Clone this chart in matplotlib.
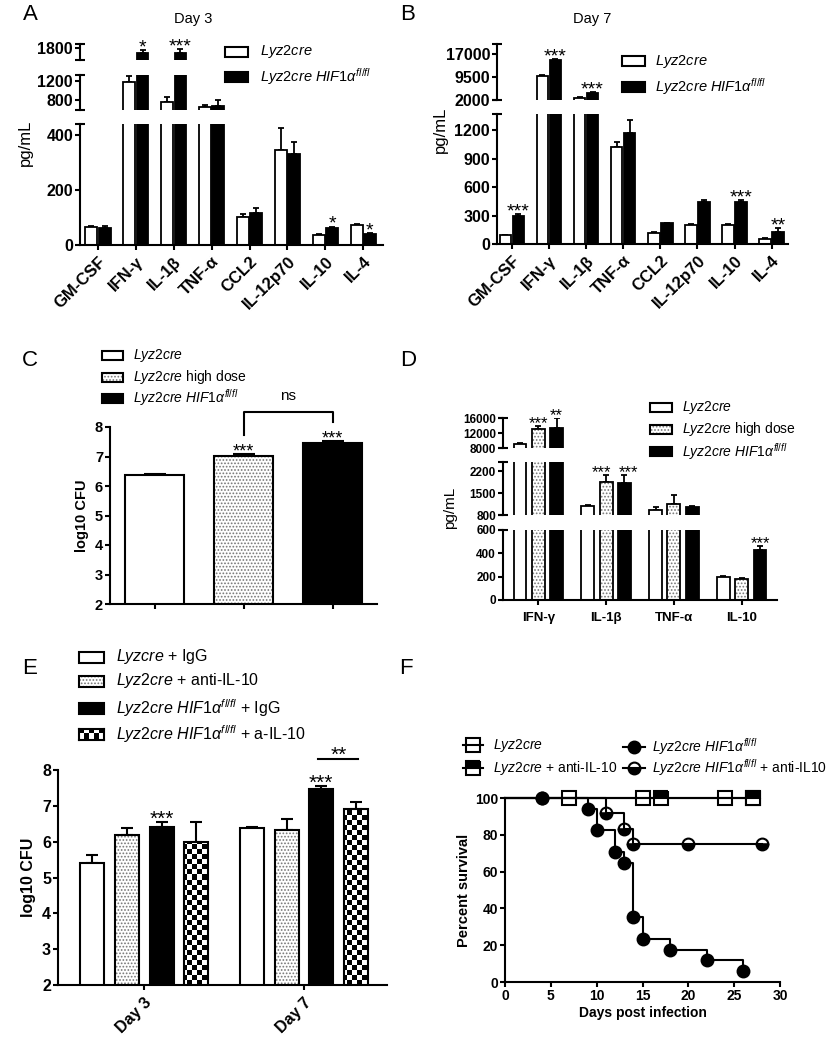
import numpy as np
import matplotlib
matplotlib.use('Agg')
import matplotlib.pyplot as plt
from matplotlib.patches import Rectangle
from matplotlib.lines import Line2D

plt.rcParams['font.family'] = ['Liberation Sans', 'DejaVu Sans']
plt.rcParams['mathtext.fontset'] = 'custom'
plt.rcParams['mathtext.rm'] = 'Liberation Sans'
plt.rcParams['mathtext.it'] = 'Liberation Sans:italic'
plt.rcParams['mathtext.bf'] = 'Liberation Sans:bold'
plt.rcParams['hatch.linewidth'] = 0.8
plt.rcParams['axes.linewidth'] = 1.5
plt.rcParams['xtick.major.width'] = 1.5
plt.rcParams['ytick.major.width'] = 1.5
plt.rcParams['xtick.major.size'] = 3.5
plt.rcParams['ytick.major.size'] = 3.5

# ---------------- data ----------------
cyto8 = ['GM-CSF', 'IFN-γ', 'IL-1β', 'TNF-α', 'CCL2', 'IL-12p70', 'IL-10', 'IL-4']
# Panel A (Day 3)
a_ctrl = [65, 1180, 750, 650, 103, 345, 36, 72]
a_ctrl_err = [5, 130, 110, 35, 8, 80, 3, 4]
a_ko = [62, 1675, 1675, 675, 116, 331, 62, 40]
a_ko_err = [8, 80, 90, 130, 18, 45, 5, 3]
a_stars = ['', '*', '***', '', '', '', '*', '*']
# Panel B (Day 7)
b_ctrl = [90, 9800, 2700, 1020, 120, 200, 200, 50]
b_ctrl_err = [8, 300, 150, 50, 8, 10, 12, 8]
b_ko = [300, 15200, 4400, 1170, 220, 440, 440, 125]
b_ko_err = [12, 300, 200, 140, 6, 25, 25, 45]
b_stars = ['***', '***', '***', '', '', '', '***', '**']
# Panel C
c_vals = [6.38, 7.03, 7.46]
c_err = [0.04, 0.05, 0.06]
c_stars = ['', '***', '***']
# Panel D
d_cyto = ['IFN-γ', 'IL-1β', 'TNF-α', 'IL-10']
d_ctrl = [9200, 1100, 960, 200]
d_ctrl_err = [150, 30, 90, 8]
d_high = [13100, 1860, 1160, 183]
d_high_err = [800, 230, 280, 6]
d_ko = [13400, 1840, 1050, 430]
d_ko_err = [2500, 250, 25, 30]
d_high_stars = ['***', '***', '', '']
d_ko_stars = ['**', '***', '', '***']
# Panel E
e_days = ['Day 3', 'Day 7']
e_ctrl_igg = [5.40, 6.38]
e_ctrl_igg_err = [0.22, 0.04]
e_ctrl_anti = [6.18, 6.33]
e_ctrl_anti_err = [0.20, 0.30]
e_ko_igg = [6.42, 7.47]
e_ko_igg_err = [0.13, 0.08]
e_ko_anti = [6.00, 6.90]
e_ko_anti_err = [0.55, 0.20]
e_ko_igg_stars = ['***', '***']
# Panel F (survival)
f_ctrl_t = [0, 7, 15, 24, 27]
f_ctrl_s = [100, 100, 100, 100, 100]
f_ctrl_anti_t = [0, 17, 27]
f_ctrl_anti_s = [100, 100, 100]
f_ko_t = [0, 4, 9, 10, 12, 13, 14, 15, 18, 22, 26]
f_ko_s = [100, 100, 94.1, 82.4, 70.6, 64.7, 35.3, 23.5, 17.6, 11.8, 5.9]
f_ko_anti_t = [0, 4, 11, 13, 14, 20, 28]
f_ko_anti_s = [100, 100, 91.7, 83.3, 75.0, 75.0, 75.0]

LYZ = r'$\mathit{Lyz2cre}$'
LYZHIF = r'$\mathit{Lyz2cre\ HIF1\alpha^{fl/fl}}$'

# ---------------- figure helpers ----------------
W, H = 834, 1050
fig = plt.figure(figsize=(W / 100, H / 100), dpi=100)


def fx(x):
    return x / W


def fy(y):
    return 1 - y / H


def ax_px(x0, y0, x1, y1):
    return fig.add_axes([x0 / W, 1 - y1 / H, (x1 - x0) / W, (y1 - y0) / H])


def style_ax(ax, fs=9):
    for s in ['top', 'right']:
        ax.spines[s].set_visible(False)
    ax.patch.set_alpha(0)
    ax.tick_params(axis='both', direction='out', labelsize=fs, pad=1.5)
    for lab in ax.get_yticklabels():
        lab.set_fontweight('bold')


def broken_axes(x0, x1, segs, fs=9):
    axes = []
    for i, (yt, yb, vmin, vmax, ticks) in enumerate(segs):
        ax = ax_px(x0, yt, x1, yb)
        ax.set_ylim(vmin, vmax)
        ax.set_yticks(ticks)
        ax.set_yticklabels([str(t) for t in ticks], fontweight='bold')
        style_ax(ax, fs)
        if i > 0:
            ax.spines['bottom'].set_visible(False)
            ax.tick_params(axis='x', bottom=False, labelbottom=False)
        ends = [1] if i == 0 else [0, 1]
        ax.plot([0] * len(ends), ends, marker='_', ms=7, mew=1.5, color='k',
                transform=ax.transAxes, clip_on=False, linestyle='none')
        axes.append(ax)
    return axes


def checker_fill(ax, patch, cell=5):
    bb = ax.get_position()
    nx = int(round(bb.width * W / cell))
    ny = int(round(bb.height * H / cell))
    arr = np.add.outer(np.arange(ny), np.arange(nx)) % 2
    xl, yl = ax.get_xlim(), ax.get_ylim()
    im = ax.imshow(arr, extent=[xl[0], xl[1], yl[0], yl[1]], cmap='gray',
                   aspect='auto', interpolation='nearest', origin='lower',
                   zorder=2.1)
    im.set_clip_path(patch)
    ax.set_xlim(xl)
    ax.set_ylim(yl)


def draw_bars(ax, xs, vals, errs, width, kind, lw=1.5, capsize=3):
    if kind == 'white':
        ax.bar(xs, vals, width, facecolor='white', edgecolor='black', linewidth=lw, zorder=2)
    elif kind == 'black':
        ax.bar(xs, vals, width, facecolor='black', edgecolor='black', linewidth=lw, zorder=2)
    elif kind == 'dots':
        ax.bar(xs, vals, width, facecolor='white', edgecolor='#777777', hatch='.....',
               linewidth=0, zorder=2)
        ax.bar(xs, vals, width, facecolor='none', edgecolor='black', linewidth=lw, zorder=3)
    elif kind == 'checker':
        bc = ax.bar(xs, vals, width, facecolor='white', edgecolor='none', linewidth=0, zorder=2)
        for p in bc.patches:
            checker_fill(ax, p)
        ax.bar(xs, vals, width, facecolor='none', edgecolor='black', linewidth=lw, zorder=3)
    ax.errorbar(xs, vals, yerr=[np.zeros(len(vals)), errs], fmt='none', ecolor='black',
                elinewidth=lw, capsize=capsize, capthick=lw, zorder=1.9)


def star_text(ax, x, y, s, fs, nx=0):
    ax.annotate(s, (x, y), xytext=(nx, -0.12 * fs), textcoords='offset points',
                ha='center', va='baseline', fontsize=fs, annotation_clip=False)


def stars(axes, xs, vals, errs, labels, fs=14, nudge=None):
    if nudge is None:
        nudge = [0] * len(xs)
    for x, v, e, s, nx in zip(xs, vals, errs, labels, nudge):
        if not s:
            continue
        top = v + e
        target = axes[-1]
        for ax in axes:
            lo, hi = ax.get_ylim()
            if lo <= top <= hi:
                target = ax
                break
        star_text(target, x, top, s, fs, nx)


def legend_box(x0, x1, yc, h, kind):
    if kind == 'checker':
        lax = ax_px(x0, yc - h / 2, x1, yc + h / 2)
        n = max(2, int(round((x1 - x0) / 5)))
        m = max(2, int(round(h / 5)))
        arr = np.add.outer(np.arange(m), np.arange(n)) % 2
        lax.imshow(arr, cmap='gray', aspect='auto', interpolation='nearest')
        lax.set_xticks([])
        lax.set_yticks([])
        for s in lax.spines.values():
            s.set_linewidth(1.5)
        return
    fc = {'white': 'white', 'black': 'black', 'dots': 'white'}[kind]
    if kind == 'dots':
        r0 = Rectangle((fx(x0), fy(yc + h / 2)), (x1 - x0) / W, h / H, transform=fig.transFigure,
                       facecolor='white', edgecolor='#777777', hatch='.....', linewidth=0)
        fig.add_artist(r0)
        fc = 'none'
    r = Rectangle((fx(x0), fy(yc + h / 2)), (x1 - x0) / W, h / H, transform=fig.transFigure,
                  facecolor=fc, edgecolor='black', linewidth=1.5)
    fig.add_artist(r)


def legend_text(x, yc, s, fs):
    fig.text(fx(x), fy(yc), s, fontsize=fs, ha='left', va='center')


def panel_letter(x, y, s):
    fig.text(fx(x), fy(y), s, fontsize=16, ha='center', va='center')


# ---------------- Panel A ----------------
xs = np.arange(len(cyto8))
off, bw = 0.175, 0.31
axA = broken_axes(80, 383, [(124, 245, 0, 440, [0, 200, 400]),
                            (75, 110, 590, 1325, [800, 1200]),
                            (44, 60, 1500, 1900, [1800])], fs=11.5)
for ax in axA:
    ax.set_xlim(-0.475, 7.52)
    draw_bars(ax, xs - off, a_ctrl, a_ctrl_err, bw, 'white', lw=1.3, capsize=2.5)
    draw_bars(ax, xs + off, a_ko, a_ko_err, bw, 'black', lw=1.3, capsize=2.5)
axA[0].set_xticks(xs)
axA[0].set_xticklabels(cyto8, rotation=45, ha='right', rotation_mode='anchor',
                       fontweight='bold', fontsize=12)
axA[0].tick_params(axis='x', pad=3)
stars(axA, xs + off, a_ko, a_ko_err, a_stars, fs=14)
fig.text(fx(193), fy(19), 'Day 3', fontsize=10.5, ha='center', va='center')
fig.text(fx(25), fy(143), 'pg/mL', fontsize=12, rotation=90, ha='center', va='center')
legend_box(225, 248, 52, 10, 'white')
legend_box(225, 248, 77, 10, 'black')
legend_text(260, 52, LYZ, 10.5)
legend_text(260, 77, LYZHIF, 10.5)
panel_letter(30, 15, 'A')

# ---------------- Panel B ----------------
axB = broken_axes(497, 788, [(114, 244, 0, 1370, [0, 300, 600, 900, 1200]),
                             (44, 100, 2000, 20300, [2000, 9500, 17000])], fs=11.5)
for ax in axB:
    ax.set_xlim(-0.4, 7.44)
    draw_bars(ax, xs - off, b_ctrl, b_ctrl_err, bw, 'white', lw=1.3, capsize=2.5)
    draw_bars(ax, xs + off, b_ko, b_ko_err, bw, 'black', lw=1.3, capsize=2.5)
axB[0].set_xticks(xs)
axB[0].set_xticklabels(cyto8, rotation=45, ha='right', rotation_mode='anchor',
                       fontweight='bold', fontsize=12)
axB[0].tick_params(axis='x', pad=3)
stars(axB, xs + off, b_ko, b_ko_err, b_stars, fs=14)
fig.text(fx(592), fy(19), 'Day 7', fontsize=10.5, ha='center', va='center')
fig.text(fx(440), fy(130), 'pg/mL', fontsize=12, rotation=90, ha='center', va='center')
legend_box(622, 645, 61, 10, 'white')
legend_box(622, 645, 87, 10, 'black')
legend_text(655, 61, LYZ, 10.5)
legend_text(655, 87, LYZHIF, 10.5)
panel_letter(408, 15, 'B')

# ---------------- Panel C ----------------
axC = ax_px(110, 427, 377, 604)
axC.set_xlim(-0.5, 2.5)
axC.set_ylim(2, 8)
cx = np.arange(3)
cw = 0.67
draw_bars(axC, cx[:1], c_vals[:1], c_err[:1], cw, 'white', capsize=8)
draw_bars(axC, cx[1:2], c_vals[1:2], c_err[1:2], cw, 'dots', capsize=8)
draw_bars(axC, cx[2:], c_vals[2:], c_err[2:], cw, 'black', capsize=8)
axC.set_xticks(cx)
axC.set_xticklabels(['', '', ''])
axC.set_yticks([2, 3, 4, 5, 6, 7, 8])
style_ax(axC, 10.5)
stars([axC], cx, c_vals, c_err, c_stars, fs=13)
axC.plot([1, 1, 2, 2], [7.73, 8.5, 8.5, 8.17], color='black', lw=1.5, clip_on=False)
axC.text(1.5, 8.8, 'ns', ha='center', va='bottom', fontsize=11)
axC.set_ylabel('log10 CFU', fontsize=10.5, fontweight='bold', labelpad=4)
legend_box(102, 123, 356, 9, 'white')
legend_box(102, 123, 377, 9, 'dots')
legend_box(102, 123, 398, 9, 'black')
legend_text(133, 356, LYZ, 10)
legend_text(133, 377, LYZ + ' high dose', 10)
legend_text(133, 398, LYZHIF, 10)
panel_letter(30, 360, 'C')

# ---------------- Panel D ----------------
dx = np.arange(len(d_cyto))
doff, dw = 0.27, 0.19
axD = broken_axes(503, 777, [(530, 600, 0, 600, [0, 200, 400, 600]),
                             (462, 515, 800, 2500, [800, 1500, 2200]),
                             (418, 448, 8000, 16000, [8000, 12000, 16000])], fs=8.5)
for ax in axD:
    ax.set_xlim(-0.52, 3.52)
    draw_bars(ax, dx - doff, d_ctrl, d_ctrl_err, dw, 'white', lw=1.3, capsize=2.5)
    draw_bars(ax, dx, d_high, d_high_err, dw, 'dots', lw=1.3, capsize=2.5)
    draw_bars(ax, dx + doff, d_ko, d_ko_err, dw, 'black', lw=1.3, capsize=2.5)
axD[0].set_xticks(dx)
axD[0].set_xticklabels(d_cyto, fontweight='bold', fontsize=9.5)
axD[0].tick_params(axis='x', pad=5)
stars(axD, dx, d_high, d_high_err, d_high_stars, fs=12, nudge=[0, -3, 0, 0])
stars(axD, dx + doff, d_ko, d_ko_err, d_ko_stars, fs=12, nudge=[0, 3, 0, 0])
fig.text(fx(450), fy(508), 'pg/mL', fontsize=11, rotation=90, ha='center', va='center')
legend_box(650, 672, 408, 9, 'white')
legend_box(650, 672, 429, 9, 'dots')
legend_box(650, 672, 452, 9, 'black')
legend_text(682, 408, LYZ, 10)
legend_text(682, 429, LYZ + ' high dose', 10)
legend_text(682, 452, LYZHIF, 10)
panel_letter(408, 360, 'D')

# ---------------- Panel E ----------------
axE = ax_px(58, 770, 387, 985)
axE.set_xlim(-0.54, 1.52)
axE.set_ylim(2, 8)
ex = np.arange(2)
ew, es = 0.15, 0.217
draw_bars(axE, ex - 1.5 * es, e_ctrl_igg, e_ctrl_igg_err, ew, 'white', capsize=4)
draw_bars(axE, ex - 0.5 * es, e_ctrl_anti, e_ctrl_anti_err, ew, 'dots', capsize=4)
draw_bars(axE, ex + 0.5 * es, e_ko_igg, e_ko_igg_err, ew, 'black', capsize=4)
draw_bars(axE, ex + 1.5 * es, e_ko_anti, e_ko_anti_err, ew, 'checker', capsize=4)
axE.set_xticks(ex)
axE.set_xticklabels(e_days, rotation=45, ha='right', rotation_mode='anchor',
                    fontweight='bold', fontsize=12)
axE.set_yticks([2, 3, 4, 5, 6, 7, 8])
style_ax(axE, 11.5)
axE.tick_params(axis='x', pad=4)
stars([axE], ex + 0.5 * es, e_ko_igg, e_ko_igg_err, e_ko_igg_stars, fs=15)
axE.plot([1.09, 1.34], [8.31, 8.31], color='black', lw=1.5, clip_on=False)
star_text(axE, 1.215, 8.33, '**', 15)
axE.set_ylabel('log10 CFU', fontsize=11.5, fontweight='bold', labelpad=4)
legend_box(79, 104, 657, 11, 'white')
legend_box(79, 104, 681, 11, 'dots')
legend_box(79, 104, 708, 11, 'black')
legend_box(79, 104, 734, 11, 'checker')
legend_text(116, 657, r'$\mathit{Lyzcre}$ + IgG', 11.5)
legend_text(116, 681, LYZ + ' + anti-IL-10', 11.5)
legend_text(116, 708, LYZHIF + ' + IgG', 11.5)
legend_text(116, 734, LYZHIF + ' + a-IL-10', 11.5)
panel_letter(30, 669, 'E')

# ---------------- Panel F ----------------
axF = ax_px(505, 798, 780, 982)
axF.set_xlim(0, 30)
axF.set_ylim(0, 100)
st_ctrl = dict(marker='s', ms=9.5, mfc='none', mec='black', mew=1.5)
st_ctrl_anti = dict(marker='s', ms=9.5, mfc='black', mfcalt='white', fillstyle='top', mec='black', mew=1.5)
st_ko = dict(marker='o', ms=8.5, mfc='black', mec='black', mew=1.5)
st_ko_anti = dict(marker='o', ms=8.5, mfc='black', mfcalt='none', fillstyle='bottom', mec='black', mew=1.5)
axF.plot(f_ctrl_t, f_ctrl_s, drawstyle='steps-post', color='black', lw=1.5,
         markevery=slice(1, None), clip_on=False, **st_ctrl)
axF.plot(f_ctrl_anti_t, f_ctrl_anti_s, drawstyle='steps-post', color='black', lw=1.5,
         markevery=slice(1, None), clip_on=False, **st_ctrl_anti)
axF.plot(f_ko_t, f_ko_s, drawstyle='steps-post', color='black', lw=1.5,
         markevery=slice(1, None), clip_on=False, **st_ko)
axF.plot(f_ko_anti_t, f_ko_anti_s, drawstyle='steps-post', color='black', lw=1.5,
         markevery=slice(1, None), clip_on=False, **st_ko_anti)
axF.set_xticks([0, 5, 10, 15, 20, 25, 30])
axF.set_yticks([0, 20, 40, 60, 80, 100])
style_ax(axF, 10)
for lab in axF.get_xticklabels():
    lab.set_fontweight('bold')
axF.set_xlabel('Days post infection', fontsize=10, fontweight='bold', labelpad=2)
axF.set_ylabel('Percent survival', fontsize=10.5, fontweight='bold', labelpad=3)


def legend_line(x0, x1, yc, st):
    ln = Line2D([fx(x0), fx((x0 + x1) / 2), fx(x1)], [fy(yc)] * 3, transform=fig.transFigure,
                color='black', lw=1.5, markevery=[1], **st)
    fig.add_artist(ln)


legend_line(463, 483, 745, st_ctrl)
legend_line(463, 483, 768, st_ctrl_anti)
legend_line(623, 645, 747, st_ko)
legend_line(623, 645, 768, st_ko_anti)
legend_text(493, 745, LYZ, 10)
legend_text(493, 768, LYZ + ' + anti-IL-10', 10)
legend_text(652, 747, LYZHIF, 10)
legend_text(652, 768, LYZHIF + ' + anti-IL10', 10)
panel_letter(406, 669, 'F')

fig.savefig('out.png', dpi=100)
